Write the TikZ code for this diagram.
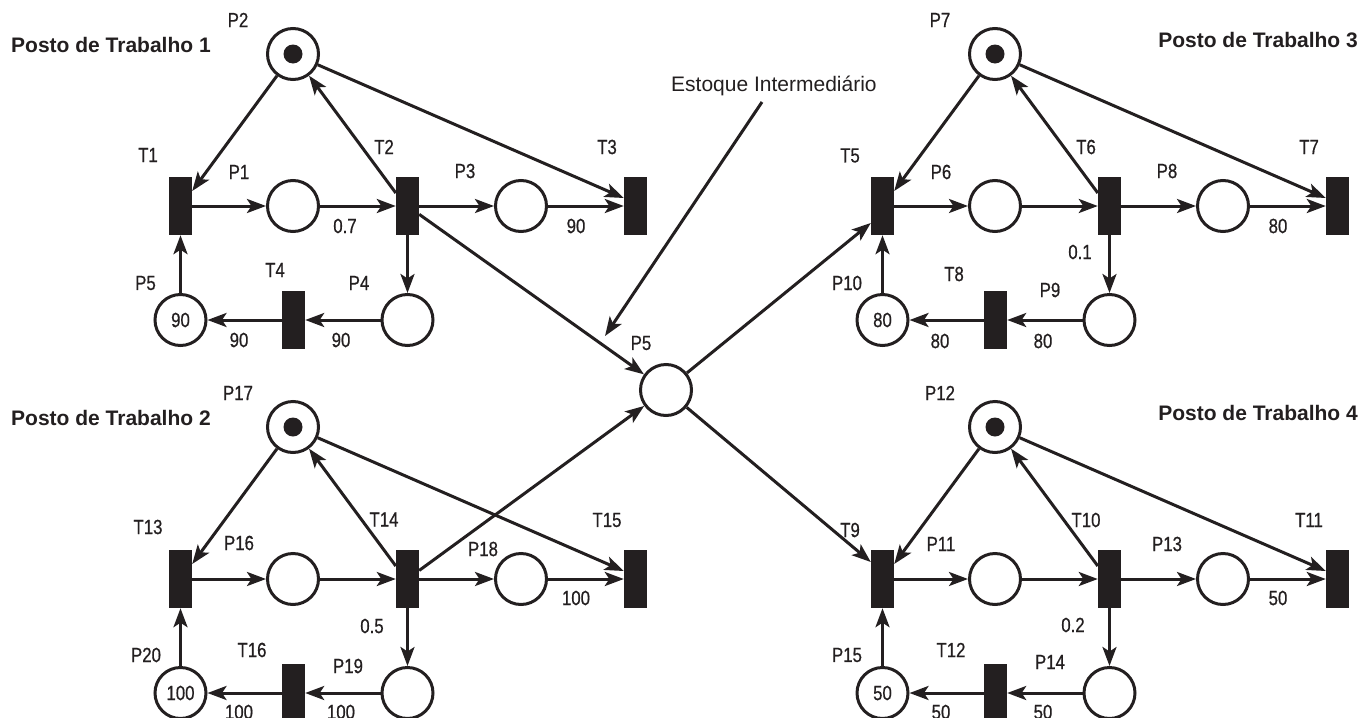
\documentclass[tikz,border=0pt]{standalone}
\usepackage{fontspec}
\setmainfont{Liberation Sans}
\newfontfamily\pnNarrow[FakeStretch=0.82,FakeBold=0.6]{Liberation Sans}
\usetikzlibrary{arrows.meta}
\definecolor{ink}{RGB}{35,31,32}
\newcommand\pnLblFont{\pnNarrow\fontsize{20.5}{24}\selectfont}
\newcommand\pnTitleFont{\bfseries\fontsize{21}{25}\selectfont}
\newcommand\pnNoteFont{\fontsize{21}{25}\selectfont}
\tikzset{
  place/.style={circle, draw=ink, line width=3pt, minimum size=51pt, inner sep=0pt, font=\pnLblFont, text=ink},
  trans/.style={rectangle, fill=ink, minimum width=23pt, minimum height=58pt, inner sep=0pt},
  lbl/.style={inner sep=0pt, font=\pnLblFont, text=ink},
  ttl/.style={inner sep=0pt, font=\pnTitleFont, text=ink},
  note/.style={inner sep=0pt, font=\pnNoteFont, text=ink},
  arc/.style={draw=ink, line width=3pt, -{Stealth[length=19pt,width=14pt,inset=4.5pt]}},
  tok/.style={fill=ink},
}
\begin{document}
\begin{tikzpicture}[x=1pt,y=-1pt]
\useasboundingbox (0,0) rectangle (1361,718);

% ---------- titles ----------
\node[ttl, anchor=base west] (title1) at (11,52) {Posto de Trabalho 1};
\node[ttl, anchor=base west] (title2) at (11,425) {Posto de Trabalho 2};
\node[ttl, anchor=base east] (title3) at (1358,47) {Posto de Trabalho 3};
\node[ttl, anchor=base east] (title4) at (1358,420) {Posto de Trabalho 4};
\node[note, anchor=base west] (est) at (671,91) {Estoque Intermediário};

% ---------- central place ----------
\node[place] (p5) at (666,390) {};
\node[lbl] (lp5) at (641,343) {P5};

% ---------- quadrant 1 (top left) ----------
\node[place] (p2) at (293,54) {};
\node[trans] (t1) at (180.5,206) {};
\node[place] (p1) at (293,206) {};
\node[trans] (t2) at (407.5,206) {};
\node[place] (p3) at (521,206) {};
\node[trans] (t3) at (635.5,206) {};
\node[place] (p4) at (407.5,320) {};
\node[trans] (t4) at (293.5,320) {};
\node[place] (p5a) at (180.5,320) {90};
\fill[tok] (p2.center) circle[radius=9.5pt];

\node[lbl] (lp2) at (238,20) {P2};
\node[lbl] (lt1) at (148,155) {T1};
\node[lbl] (lp1) at (239,172) {P1};
\node[lbl] (lt2) at (384,147) {T2};
\node[lbl] (lp3) at (465,171) {P3};
\node[lbl] (lt3) at (607,147) {T3};
\node[lbl] (w07) at (345,226) {0.7};
\node[lbl] (w90a) at (576,226) {90};
\node[lbl] (lp5a) at (145.5,283) {P5};
\node[lbl] (lt4) at (275,270) {T4};
\node[lbl] (lp4) at (359,283) {P4};
\node[lbl] (w90b) at (239,340) {90};
\node[lbl] (w90c) at (341,340) {90};

\draw[arc] (p2) -- ([yshift=15pt]t1.east);
\draw[arc] ([yshift=13pt]t2.west) -- (p2);
\draw[arc] (p2) -- ([yshift=8pt]t3.west);
\draw[arc] (t1) -- (p1);
\draw[arc] (p1) -- (t2);
\draw[arc] (t2) -- (p3);
\draw[arc] (p3) -- (t3);
\draw[arc] (t2) -- (p4);
\draw[arc] (p4) -- (t4);
\draw[arc] (t4) -- (p5a);
\draw[arc] (p5a) -- (t1);

% ---------- quadrant 3 (top right) ----------
\node[place] (p7) at (995,54) {};
\node[trans] (t5) at (882.5,206) {};
\node[place] (p6) at (995,206) {};
\node[trans] (t6) at (1109.5,206) {};
\node[place] (p8) at (1223,206) {};
\node[trans] (t7) at (1337.5,206) {};
\node[place] (p9) at (1109.5,320) {};
\node[trans] (t8) at (995.5,320) {};
\node[place] (p10) at (882.5,320) {80};
\fill[tok] (p7.center) circle[radius=9.5pt];

\node[lbl] (lp7) at (940,20) {P7};
\node[lbl] (lt5) at (850,155.5) {T5};
\node[lbl] (lp6) at (941,172) {P6};
\node[lbl] (lt6) at (1086,147) {T6};
\node[lbl] (lp8) at (1167,171) {P8};
\node[lbl] (lt7) at (1309,147) {T7};
\node[lbl] (w80a) at (1278,226) {80};
\node[lbl] (w01) at (1080,252) {0.1};
\node[lbl] (lp10) at (847,283) {P10};
\node[lbl] (lt8) at (954,274) {T8};
\node[lbl] (lp9) at (1050,290) {P9};
\node[lbl] (w80b) at (940,341) {80};
\node[lbl] (w80c) at (1043,341) {80};

\draw[arc] (p7) -- ([yshift=15pt]t5.east);
\draw[arc] ([yshift=13pt]t6.west) -- (p7);
\draw[arc] (p7) -- ([yshift=8pt]t7.west);
\draw[arc] (t5) -- (p6);
\draw[arc] (p6) -- (t6);
\draw[arc] (t6) -- (p8);
\draw[arc] (p8) -- (t7);
\draw[arc] (t6) -- (p9);
\draw[arc] (p9) -- (t8);
\draw[arc] (t8) -- (p10);
\draw[arc] (p10) -- (t5);

% ---------- quadrant 2 (bottom left) ----------
\node[place] (p17) at (293,427) {};
\node[trans] (t13) at (180.5,579) {};
\node[place] (p16) at (293,579) {};
\node[trans] (t14) at (407.5,579) {};
\node[place] (p18) at (521,579) {};
\node[trans] (t15) at (635.5,579) {};
\node[place] (p19) at (407.5,693) {};
\node[trans] (t16) at (293.5,693) {};
\node[place] (p20) at (180.5,693) {100};
\fill[tok] (p17.center) circle[radius=9.5pt];

\node[lbl] (lp17) at (238,393) {P17};
\node[lbl] (lt13) at (148,527) {T13};
\node[lbl] (lp16) at (239,543) {P16};
\node[lbl] (lt14) at (384,519.5) {T14};
\node[lbl] (lp18) at (483,549) {P18};
\node[lbl] (lt15) at (607,520) {T15};
\node[lbl] (w05) at (372,626) {0.5};
\node[lbl] (w100a) at (576,598) {100};
\node[lbl] (lp20) at (146,655) {P20};
\node[lbl] (lt16) at (252,650) {T16};
\node[lbl] (lp19) at (348,666) {P19};
\node[lbl] (w100b) at (239,712) {100};
\node[lbl] (w100c) at (341,712) {100};

\draw[arc] (p17) -- ([yshift=15pt]t13.east);
\draw[arc] ([yshift=13pt]t14.west) -- (p17);
\draw[arc] (p17) -- ([yshift=8pt]t15.west);
\draw[arc] (t13) -- (p16);
\draw[arc] (p16) -- (t14);
\draw[arc] (t14) -- (p18);
\draw[arc] (p18) -- (t15);
\draw[arc] (t14) -- (p19);
\draw[arc] (p19) -- (t16);
\draw[arc] (t16) -- (p20);
\draw[arc] (p20) -- (t13);

% ---------- quadrant 4 (bottom right) ----------
\node[place] (p12) at (995,427) {};
\node[trans] (t9) at (882.5,579) {};
\node[place] (p11) at (995,579) {};
\node[trans] (t10) at (1109.5,579) {};
\node[place] (p13) at (1223,579) {};
\node[trans] (t11) at (1337.5,579) {};
\node[place] (p14) at (1109.5,693) {};
\node[trans] (t12) at (995.5,693) {};
\node[place] (p15) at (882.5,693) {50};
\fill[tok] (p12.center) circle[radius=9.5pt];

\node[lbl] (lp12) at (940,393) {P12};
\node[lbl] (lt9) at (850,530) {T9};
\node[lbl] (lp11) at (941,544) {P11};
\node[lbl] (lt10) at (1086,520) {T10};
\node[lbl] (lp13) at (1167,544) {P13};
\node[lbl] (lt11) at (1309,520) {T11};
\node[lbl] (w50a) at (1278,598) {50};
\node[lbl] (w02) at (1073,625) {0.2};
\node[lbl] (lp15) at (847,655) {P15};
\node[lbl] (lt12) at (951,650) {T12};
\node[lbl] (lp14) at (1050,662) {P14};
\node[lbl] (w50b) at (941,712) {50};
\node[lbl] (w50c) at (1043,712) {50};

\draw[arc] (p12) -- ([yshift=15pt]t9.east);
\draw[arc] ([yshift=13pt]t10.west) -- (p12);
\draw[arc] (p12) -- ([yshift=8pt]t11.west);
\draw[arc] (t9) -- (p11);
\draw[arc] (p11) -- (t10);
\draw[arc] (t10) -- (p13);
\draw[arc] (p13) -- (t11);
\draw[arc] (t10) -- (p14);
\draw[arc] (p14) -- (t12);
\draw[arc] (t12) -- (p15);
\draw[arc] (p15) -- (t9);

% ---------- links through the intermediate stock ----------
\draw[arc] (t2) -- (p5);
\draw[arc] (t14) -- (p5);
\draw[arc] (p5) -- ([yshift=-17pt]t5.west);
\draw[arc] (p5) -- ([yshift=17pt]t9.west);

% ---------- annotation ----------
\coordinate (a1) at (762,102);
\coordinate (a2) at (605,336);
\draw[arc] (a1) -- (a2);
\end{tikzpicture}
\end{document}
